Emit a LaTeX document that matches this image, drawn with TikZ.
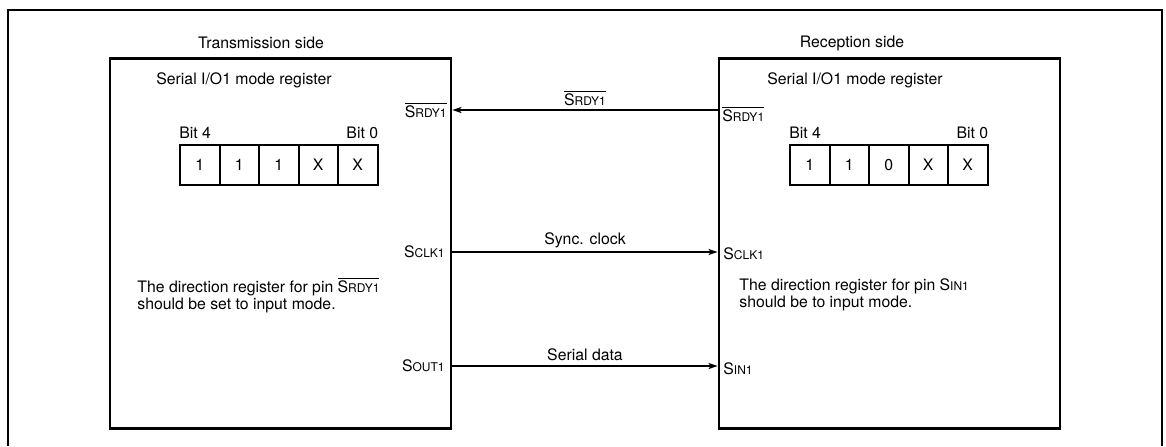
\documentclass[tikz,border=0pt]{standalone}
\usepackage{fontspec}
\setmainfont{TeX Gyre Heros}
\usetikzlibrary{arrows.meta}
\newcommand{\pinname}[2]{#1{\fontsize{6}{7}\selectfont #2}}
\newcommand{\pinbar}[2]{$\overline{\hbox{\pinname{#1}{#2}}}$}

\begin{document}
\begin{tikzpicture}[x=0.5pt, y=-0.5pt, font=\fontsize{7.9}{8.6}\selectfont,
    sidebox/.style={draw, line width=1.4pt, minimum width=170.5pt, minimum height=185pt, inner sep=0pt},
    cell/.style={draw, line width=1pt, minimum width=19.75pt, minimum height=20pt, inner sep=0pt},
    pinl/.style={anchor=east, inner sep=0pt},
    pinr/.style={anchor=west, inner sep=0pt},
    sig/.style={line width=0.8pt, -{Stealth[length=4.5pt, width=3pt, inset=1pt]}}]
            \useasboundingbox (0,0) rectangle (1166,446);
            \draw[line width=1.4pt] (8,446) -- (8,10) -- (1162,10) -- (1162,446);
            % both sides
            \node[sidebox] (tx) at (280.5,243.5) {};
            \node[sidebox] (rx) at (889.5,243.5) {};
            \node (txtitle) at (261,43) {Transmission side};
            \node (rxtitle) at (852,43) {Reception side};
            \node[anchor=west, inner sep=0pt] (txreg) at (156,80) {Serial I/O1 mode register};
            \node[anchor=west, inner sep=0pt] (rxreg) at (767,80) {Serial I/O1 mode register};
            % register bits
            \foreach \v [count=\i from 0] in {1,1,1,X,X}
                \node[cell] (txb\i) at (199.75+39.5*\i,165) {\v};
            \foreach \v [count=\i from 0] in {1,1,0,X,X}
                \node[cell] (rxb\i) at (809.75+39.5*\i,165) {\v};
            \node[anchor=south west, inner sep=0pt, yshift=2.5pt] (txbit4) at (txb0.north west) {Bit 4};
            \node[anchor=south east, inner sep=0pt, yshift=2.5pt] (txbit0) at (txb4.north east) {Bit 0};
            \node[anchor=south west, inner sep=0pt, yshift=2.5pt] (rxbit4) at (rxb0.north west) {Bit 4};
            \node[anchor=south east, inner sep=0pt, yshift=2.5pt] (rxbit0) at (rxb4.north east) {Bit 0};
            % pins
            \node[pinl] (txrdy) at (447,110) {\pinbar{S}{RDY1}};
            \node[pinl] (txclk) at (445,252) {\pinname{S}{CLK1}};
            \node[pinl] (txout) at (445,366) {\pinname{S}{OUT1}};
            \node[pinr] (rxrdy) at (722,114) {\pinbar{S}{RDY1}};
            \node[pinr] (rxclk) at (723,254) {\pinname{S}{CLK1}};
            \node[pinr] (rxin) at (723,369) {\pinname{S}{IN1}};
            \node[anchor=west, align=left, inner sep=0pt] (txnote) at (137,295)
                {The direction register for pin \pinbar{S}{RDY1}\\should be set to input mode.};
            \node[anchor=west, align=left, inner sep=0pt] (rxnote) at (739,295)
                {The direction register for pin \pinname{S}{IN1}\\should be to input mode.};
            % signals
            \draw[sig] (rx.west |- txrdy) -- (tx.east |- txrdy);
            \draw[sig] (tx.east |- txclk) -- (rx.west |- txclk);
            \draw[sig] (tx.east |- txout) -- (rx.west |- txout);
            \node (rdylbl) at (585,98) {\pinbar{S}{RDY1}};
            \node (clklbl) at (585,240) {Sync. clock};
            \node (datlbl) at (585,355) {Serial data};
        \end{tikzpicture}
\end{document}
